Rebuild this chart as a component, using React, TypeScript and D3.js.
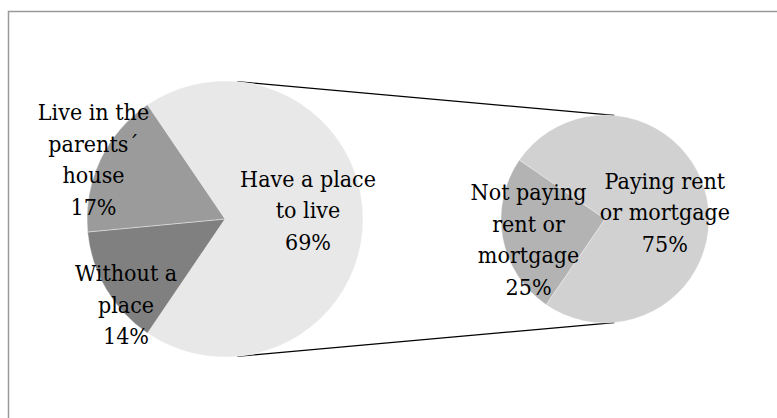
import React from "react";
import * as d3 from "d3";

// ---- data ----
const mainCategories = ["Have a place to live", "Without a place", "Live in the parents´ house"];
const mainValues = [69, 14, 17];
const mainLabelLines = [["Have a place", "to live"], ["Without a", "place"], ["Live in the", "parents´", "house"]];
const mainColors = ["#e8e8e8", "#808080", "#9b9b9b"];

const subCategories = ["Paying rent or mortgage", "Not paying rent or mortgage"];
const subValues = [75, 25];
const subLabelLines = [["Paying rent", "or mortgage"], ["Not paying", "rent or", "mortgage"]];
const subColors = ["#d1d1d1", "#b3b3b3"];

const W = 777;
const H = 418;
const FONT = '"DejaVu Serif", serif';
const FS = 23;
const SX = 0.9;
const LH = 31.5;

// label placement: [radius factor, angle in degrees clockwise from top]
const mainLabelPlace: [number, number][] = [[0.605, 83.8], [0.946, 229.3], [1.047, 294.5]];
const subLabelPlace: [number, number][] = [[0.58, 82.9], [0.76, 255.3]];

function Label({ cx, cy, lines }: { cx: number; cy: number; lines: string[] }) {
  const first = cy - ((lines.length - 1) * LH) / 2 + 8.5;
  return (
    <g transform={`translate(${cx},0) scale(${SX},1)`}>
      <text textAnchor="middle" style={{ fontFamily: FONT, fontSize: FS }} fill="#000">
        {lines.map((l, i) => (
          <tspan key={i} x={0} y={first + i * LH}>
            {l}
          </tspan>
        ))}
      </text>
    </g>
  );
}

export default function App() {
  const mc = { x: 225, y: 219, r: 138 };
  const sc = { x: 605, y: 219, r: 104 };

  const mainShare = mainValues[0] / d3.sum(mainValues);
  const mainStart = Math.PI / 2 - mainShare * Math.PI;
  const mainPie = d3
    .pie<number>()
    .sort(null)
    .startAngle(mainStart)
    .endAngle(mainStart + 2 * Math.PI)(mainValues);

  const subStart = (-55.5 * Math.PI) / 180;
  const subPie = d3
    .pie<number>()
    .sort(null)
    .startAngle(subStart)
    .endAngle(subStart + 2 * Math.PI)(subValues);

  const mainArc = d3.arc<d3.PieArcDatum<number>>().innerRadius(0).outerRadius(mc.r);
  const subArc = d3.arc<d3.PieArcDatum<number>>().innerRadius(0).outerRadius(sc.r);

  // external common tangent
  const dist = sc.x - mc.x;
  const alpha = Math.asin((mc.r - sc.r) / dist);
  const tp = (c: { x: number; y: number; r: number }, sgn: number) => [
    c.x + c.r * Math.sin(alpha),
    c.y - sgn * c.r * Math.cos(alpha),
  ];
  const [t1x, t1y] = tp(mc, 1);
  const [t2x, t2y] = tp(sc, 1);
  const [b1x, b1y] = tp(mc, -1);
  const [b2x, b2y] = tp(sc, -1);

  const polar = (c: { x: number; y: number; r: number }, k: number, deg: number) => {
    const a = (deg * Math.PI) / 180;
    return [c.x + c.r * k * Math.sin(a), c.y - c.r * k * Math.cos(a)];
  };

  return (
    <svg width={W} height={H} style={{ position: "absolute", left: 0, top: 0 }}>
      <rect x={0} y={0} width={W} height={H} fill="#fff" />
      <rect x={8.5} y={11.5} width={W + 20} height={H + 20} fill="#fff" stroke="#9a9a9a" strokeWidth={1.5} />
      <line x1={t1x} y1={t1y} x2={t2x} y2={t2y} stroke="#000" strokeWidth={1.2} />
      <line x1={b1x} y1={b1y} x2={b2x} y2={b2y} stroke="#000" strokeWidth={1.2} />
      <g transform={`translate(${mc.x},${mc.y})`}>
        {mainPie.map((d, i) => (
          <path key={mainCategories[i]} d={mainArc(d) || ""} fill={mainColors[i]} stroke="#ffffff" strokeOpacity={0.5} strokeWidth={0.75} />
        ))}
      </g>
      <g transform={`translate(${sc.x},${sc.y})`}>
        {subPie.map((d, i) => (
          <path key={subCategories[i]} d={subArc(d) || ""} fill={subColors[i]} stroke="#ffffff" strokeOpacity={0.5} strokeWidth={0.75} />
        ))}
      </g>
      {mainPie.map((d, i) => {
        const [x, y] = polar(mc, mainLabelPlace[i][0], mainLabelPlace[i][1]);
        return <Label key={"ml" + i} cx={x} cy={y} lines={[...mainLabelLines[i], `${mainValues[i]}%`]} />;
      })}
      {subPie.map((d, i) => {
        const [x, y] = polar(sc, subLabelPlace[i][0], subLabelPlace[i][1]);
        return <Label key={"sl" + i} cx={x} cy={y} lines={[...subLabelLines[i], `${subValues[i]}%`]} />;
      })}
    </svg>
  );
}
